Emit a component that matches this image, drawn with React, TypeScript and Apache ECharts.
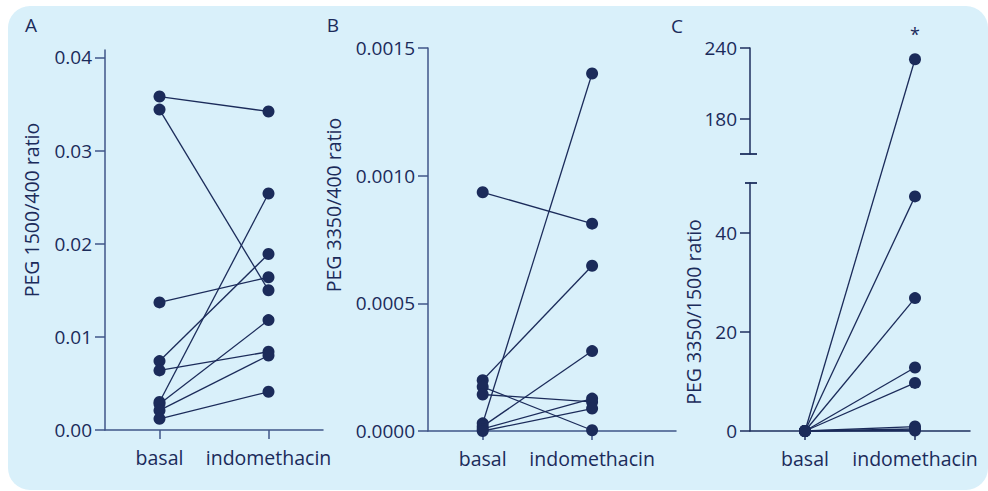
import React, { useEffect, useRef } from "react";
import * as echarts from "echarts";

// Category labels shared by all three panels
const CATEGORIES = ["basal", "indomethacin"];

// Panel A: PEG 1500/400 ratio, one entry per subject (basal -> indomethacin)
const A_BASAL = [0.0358, 0.0344, 0.0137, 0.0074, 0.0064, 0.003, 0.0028, 0.0021, 0.0012];
const A_INDO = [0.0342, 0.015, 0.0164, 0.0189, 0.0084, 0.0254, 0.0118, 0.008, 0.0041];
const A_TICKS = [0, 0.01, 0.02, 0.03, 0.04];

// Panel B: PEG 3350/400 ratio
const B_BASAL = [0.000935, 0.000199, 0.000173, 0.000143, 0.00003, 0.000018, 0.000008, 0.0];
const B_INDO = [0.000812, 0.000647, 0.000003, 0.000114, 0.0014, 0.000313, 0.000127, 0.000088];
const B_TICKS = [0, 0.0005, 0.001, 0.0015];

// Panel C: PEG 3350/1500 ratio (broken axis)
const C_BASAL = [0, 0, 0, 0, 0, 0, 0, 0];
const C_INDO = [230.4, 47.3, 26.8, 12.8, 9.7, 0.9, 0.4, 0.1];
const C_LOWER_TICKS = [0, 20, 40];
const C_UPPER_TICKS = [180, 240];
const C_LOWER_RANGE = [0, 50];
const C_UPPER_RANGE = [150, 240];

// Layout (pixels)
const NAVY = "#1b2b5a";
const AXIS_AB = "#3f5688";
const AXIS_C = "#1e2f5e";
const FONT = "Open Sans";
const A_GRID = { left: 105, top: 50, width: 218, height: 380 };
const B_GRID = { left: 428, top: 48, width: 248, height: 383 };
const B_UNIT = 109.4;
const C_LEFT = 750;
const C_WIDTH = 220;
const C_LOWER = { top: 183, height: 248 };
const C_UPPER = { top: 48, height: 106 };
const C_BOTTOM = C_LOWER.top + C_LOWER.height;

// Broken-axis mapping: values are placed on a single display scale whose unit
// equals the lower segment's unit.
const lowerPx = C_LOWER.height / (C_LOWER_RANGE[1] - C_LOWER_RANGE[0]);
const upperPx = C_UPPER.height / (C_UPPER_RANGE[1] - C_UPPER_RANGE[0]);
const brokenScale = (v: number) => {
  if (v <= C_LOWER_RANGE[1]) return v;
  const off = C_BOTTOM - (C_UPPER.top + C_UPPER.height) + (v - C_UPPER_RANGE[0]) * upperPx;
  return off / lowerPx;
};
const C_DISPLAY_MAX = (C_BOTTOM - C_UPPER.top) / lowerPx;

const tickText = { color: NAVY, fontFamily: FONT, fontSize: 19 };

const catAxis = (gridIndex: number, max: number, color: string, show = true) => ({
  type: "value",
  gridIndex,
  min: 0.5,
  max,
  show,
  axisLine: { show: true, lineStyle: { color, width: 1.5 } },
  axisTick: { show: true, length: 9, customValues: [1, 2], lineStyle: { color, width: 1.5 } },
  axisLabel: {
    show: true,
    customValues: [1, 2],
    margin: 17,
    formatter: (v: number) => CATEGORIES[Math.round(v) - 1] ?? "",
    ...tickText,
    fontSize: 19.5,
  },
  splitLine: { show: false },
});

const valAxis = (
  gridIndex: number,
  min: number,
  max: number,
  ticks: number[],
  fmt: (v: number) => string,
  color: string
) => ({
  type: "value",
  gridIndex,
  min,
  max,
  axisLine: { show: true, lineStyle: { color, width: 1.5 } },
  axisTick: { show: true, length: 10, customValues: ticks, lineStyle: { color, width: 1.5 } },
  axisLabel: { show: true, customValues: ticks, margin: 13, formatter: fmt, ...tickText },
  splitLine: { show: false },
});

const pairSeries = (
  basal: number[],
  indo: number[],
  axisIndex: number,
  map: (v: number) => number = (v) => v,
  starIndex = -1
) =>
  basal.map((b, k) => ({
    type: "line",
    xAxisIndex: axisIndex,
    yAxisIndex: axisIndex,
    silent: true,
    symbol: "circle",
    symbolSize: 12,
    clip: false,
    lineStyle: { color: NAVY, width: 1.3 },
    itemStyle: { color: NAVY },
    data: [
      [1, map(b)],
      k === starIndex
        ? {
            value: [2, map(indo[k])],
            label: {
              show: true,
              position: "top",
              distance: 10,
              formatter: "*",
              color: NAVY,
              fontFamily: FONT,
              fontSize: 18,
            },
          }
        : [2, map(indo[k])],
    ],
  }));

const axisTitle = (text: string, x: number, y: number) => ({
  type: "text",
  x,
  y,
  rotation: Math.PI / 2,
  silent: true,
  style: {
    text,
    fill: NAVY,
    font: `19.5px "${FONT}"`,
    align: "center",
    verticalAlign: "middle",
  },
});

const panelLetter = (text: string, x: number, y: number) => ({
  type: "text",
  x,
  y,
  silent: true,
  style: {
    text,
    fill: NAVY,
    font: `19px "${FONT}"`,
    align: "center",
    verticalAlign: "middle",
  },
});

export default function App() {
  const ref = useRef<HTMLDivElement>(null);

  useEffect(() => {
    if (!ref.current) return;
    const chart = echarts.init(ref.current, undefined, { renderer: "svg" });

    const option = {
      animation: false,
      backgroundColor: "transparent",
      grid: [
        { ...A_GRID },
        { ...B_GRID },
        { left: C_LEFT, width: C_WIDTH, top: C_LOWER.top, height: C_LOWER.height },
        { left: C_LEFT, width: C_WIDTH, top: C_UPPER.top, height: C_UPPER.height },
        { left: C_LEFT, width: C_WIDTH, top: C_UPPER.top, height: C_BOTTOM - C_UPPER.top },
      ],
      xAxis: [
        catAxis(0, 2.5, AXIS_AB),
        catAxis(1, 0.5 + B_GRID.width / B_UNIT, AXIS_AB),
        catAxis(2, 2.5, AXIS_C, false),
        catAxis(3, 2.5, AXIS_C, false),
        catAxis(4, 2.5, AXIS_C),
      ],
      yAxis: [
        valAxis(0, 0, 0.0408, A_TICKS, (v) => v.toFixed(2), AXIS_AB),
        valAxis(1, 0, 0.0015, B_TICKS, (v) => v.toFixed(4), AXIS_AB),
        valAxis(2, C_LOWER_RANGE[0], C_LOWER_RANGE[1], C_LOWER_TICKS, (v) => String(Math.round(v)), AXIS_C),
        valAxis(3, C_UPPER_RANGE[0], C_UPPER_RANGE[1], C_UPPER_TICKS, (v) => String(Math.round(v)), AXIS_C),
        { type: "value", gridIndex: 4, min: 0, max: C_DISPLAY_MAX, show: false },
      ],
      series: [
        ...pairSeries(A_BASAL, A_INDO, 0),
        ...pairSeries(B_BASAL, B_INDO, 1),
        ...pairSeries(C_BASAL, C_INDO, 4, brokenScale, 0),
      ],
      graphic: [
        panelLetter("A", 31, 25),
        panelLetter("B", 333, 25),
        panelLetter("C", 677, 26),
        axisTitle("PEG 1500/400 ratio", 31, 210),
        axisTitle("PEG 3350/400 ratio", 333, 205),
        axisTitle("PEG 3350/1500 ratio", 693, 312),
        // caps marking the break in panel C's y axis
        {
          type: "line",
          silent: true,
          shape: { x1: C_LEFT - 5, y1: C_LOWER.top, x2: C_LEFT + 7, y2: C_LOWER.top },
          style: { stroke: AXIS_C, lineWidth: 1.8 },
        },
        {
          type: "line",
          silent: true,
          shape: {
            x1: C_LEFT - 10,
            y1: C_UPPER.top + C_UPPER.height,
            x2: C_LEFT + 7,
            y2: C_UPPER.top + C_UPPER.height,
          },
          style: { stroke: AXIS_C, lineWidth: 1.8 },
        },
      ],
    };

    chart.setOption(option as any);
    return () => chart.dispose();
  }, []);

  return (
    <div style={{ position: "fixed", left: 0, top: 0, width: 988, height: 491, background: "#ffffff" }}>
      <div
        style={{
          position: "absolute",
          left: 8,
          top: 6,
          width: 980,
          height: 484,
          borderRadius: 22,
          background: "#d9f0fa",
        }}
      />
      <div ref={ref} style={{ position: "absolute", left: 0, top: 0, width: 988, height: 491 }} />
    </div>
  );
}
